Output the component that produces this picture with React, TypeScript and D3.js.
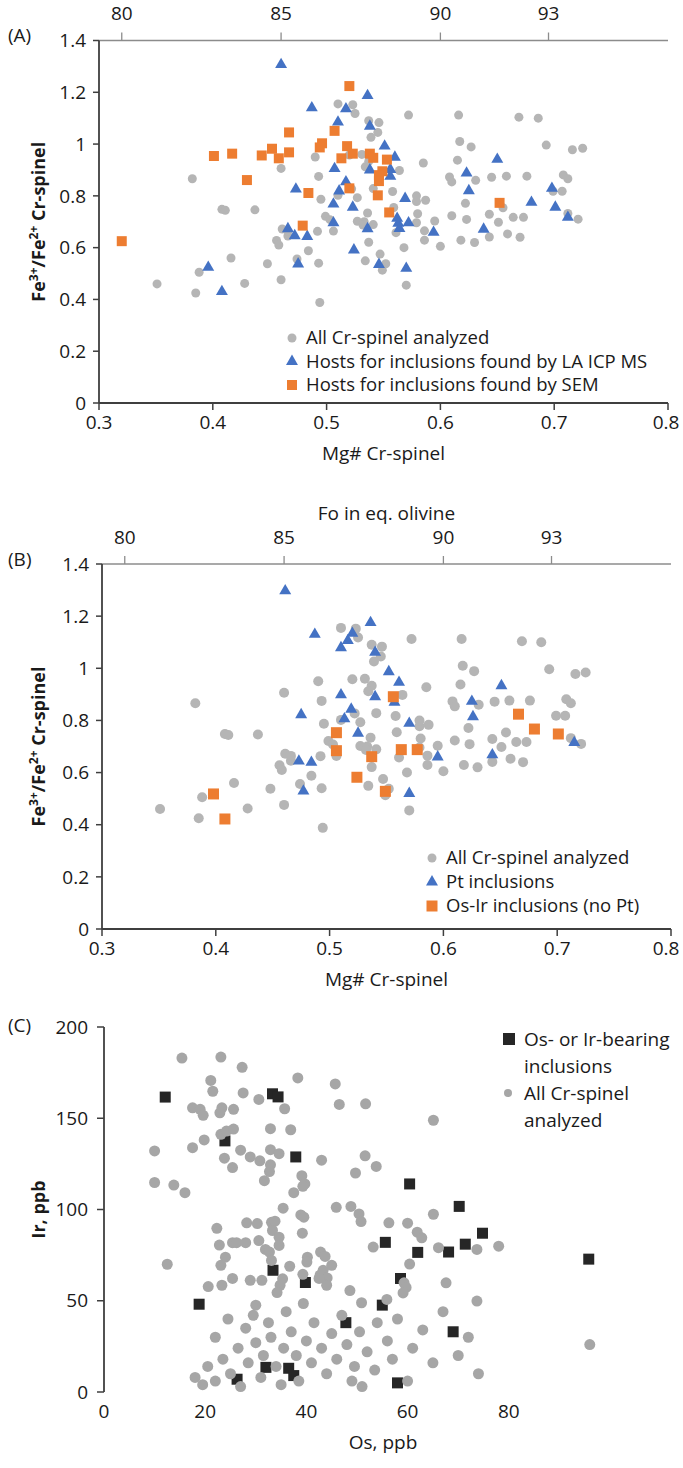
import React from "react";
import * as d3 from "d3";

// ---- panels A & B : Mg# Cr-spinel vs Fe3+/Fe2+ ----
const mgTicks = [0.3, 0.4, 0.5, 0.6, 0.7, 0.8];
const feTicks = [0, 0.2, 0.4, 0.6, 0.8, 1, 1.2, 1.4];
// Fo in equilibrium olivine, placed at the Mg# it corresponds to
const foTicks = [80, 85, 90, 93];
const foTickMg = [0.32, 0.46, 0.6, 0.695];

// all Cr-spinel analyzed [Mg#, Fe3+/Fe2+]
const allSpinel: [number, number][] = [
  [0.351, 0.46], [0.385, 0.425], [0.388, 0.505], [0.416, 0.56], [0.428, 0.462], [0.448, 0.538], [0.46, 0.476],
  [0.456, 0.628], [0.458, 0.61], [0.466, 0.645], [0.461, 0.672], [0.466, 0.664], [0.474, 0.556], [0.484, 0.588],
  [0.493, 0.54], [0.494, 0.388], [0.492, 0.663], [0.506, 0.664], [0.537, 0.621], [0.534, 0.549], [0.547, 0.575],
  [0.549, 0.513], [0.552, 0.538], [0.51, 1.155], [0.523, 1.152], [0.525, 1.118], [0.537, 1.09], [0.546, 1.083],
  [0.545, 1.045], [0.539, 1.026], [0.49, 0.95], [0.52, 0.958], [0.531, 0.96], [0.537, 0.933], [0.534, 0.912],
  [0.46, 0.906], [0.382, 0.866], [0.493, 0.875], [0.541, 0.828], [0.495, 0.787], [0.527, 0.793], [0.51, 0.802],
  [0.522, 0.827], [0.437, 0.746], [0.408, 0.748], [0.411, 0.744], [0.499, 0.721], [0.503, 0.708], [0.527, 0.702],
  [0.536, 0.734], [0.533, 0.7], [0.541, 0.689], [0.532, 0.687], [0.572, 1.112], [0.616, 1.112], [0.669, 1.104],
  [0.686, 1.1], [0.617, 1.01], [0.627, 0.989], [0.693, 0.996], [0.716, 0.978], [0.725, 0.984], [0.585, 0.927],
  [0.615, 0.938], [0.564, 0.898], [0.608, 0.873], [0.61, 0.854], [0.631, 0.86], [0.645, 0.872], [0.658, 0.876],
  [0.676, 0.876], [0.708, 0.881], [0.712, 0.866], [0.558, 0.817], [0.707, 0.818], [0.699, 0.818], [0.579, 0.778],
  [0.587, 0.783], [0.579, 0.8], [0.622, 0.771], [0.559, 0.755], [0.655, 0.754], [0.61, 0.723], [0.623, 0.709],
  [0.643, 0.729], [0.651, 0.698], [0.664, 0.717], [0.673, 0.717], [0.58, 0.731], [0.579, 0.696], [0.586, 0.665],
  [0.595, 0.703], [0.659, 0.653], [0.618, 0.629], [0.643, 0.641], [0.712, 0.732], [0.721, 0.71], [0.561, 0.658],
  [0.586, 0.629], [0.57, 0.455], [0.568, 0.6], [0.6, 0.605], [0.63, 0.62], [0.67, 0.64],
];

// (A) hosts for inclusions found by LA ICP MS
const hostsLaIcpMs: [number, number][] = [
  [0.46, 1.307], [0.536, 1.187], [0.487, 1.14], [0.517, 1.136], [0.51, 1.085], [0.538, 1.069], [0.551, 0.992],
  [0.56, 0.949], [0.556, 0.902], [0.556, 0.876], [0.507, 0.905], [0.517, 0.854], [0.473, 0.826], [0.511, 0.819],
  [0.538, 0.9], [0.506, 0.768], [0.523, 0.756], [0.506, 0.696], [0.536, 0.673], [0.466, 0.673], [0.472, 0.646],
  [0.483, 0.643], [0.569, 0.79], [0.562, 0.713], [0.563, 0.694], [0.572, 0.696], [0.564, 0.674], [0.594, 0.659],
  [0.65, 0.941], [0.623, 0.888], [0.625, 0.82], [0.68, 0.775], [0.638, 0.671], [0.698, 0.829], [0.701, 0.756],
  [0.712, 0.717], [0.524, 0.591], [0.475, 0.537], [0.546, 0.535], [0.396, 0.524], [0.408, 0.43], [0.57, 0.52],
];

// (A) hosts for inclusions found by SEM
const hostsSem: [number, number][] = [
  [0.52, 1.224], [0.467, 1.045], [0.507, 1.051], [0.496, 1.003], [0.494, 0.987], [0.518, 0.992], [0.401, 0.954],
  [0.417, 0.963], [0.443, 0.956], [0.452, 0.982], [0.458, 0.945], [0.467, 0.968], [0.513, 0.945], [0.523, 0.963],
  [0.538, 0.963], [0.541, 0.947], [0.553, 0.94], [0.549, 0.895], [0.546, 0.88], [0.546, 0.857], [0.43, 0.861],
  [0.484, 0.811], [0.52, 0.829], [0.545, 0.802], [0.555, 0.736], [0.479, 0.685], [0.32, 0.625], [0.652, 0.773],
];

// (B) Pt inclusions
const ptInclusions: [number, number][] = [
  [0.461, 1.297], [0.536, 1.175], [0.487, 1.13], [0.52, 1.134], [0.516, 1.106], [0.51, 1.079], [0.54, 1.061],
  [0.552, 0.987], [0.561, 0.946], [0.51, 0.898], [0.54, 0.891], [0.519, 0.843], [0.513, 0.806], [0.475, 0.822],
  [0.525, 0.751], [0.473, 0.644], [0.484, 0.639], [0.477, 0.529], [0.557, 0.87], [0.57, 0.789], [0.651, 0.933],
  [0.625, 0.873], [0.626, 0.814], [0.595, 0.66], [0.643, 0.668], [0.715, 0.715], [0.57, 0.52],
];

// (B) Os-Ir inclusions (no Pt)
const osIrInclusions: [number, number][] = [
  [0.398, 0.518], [0.408, 0.422], [0.506, 0.753], [0.506, 0.684], [0.537, 0.661], [0.524, 0.582], [0.549, 0.528],
  [0.556, 0.891], [0.666, 0.824], [0.68, 0.767], [0.701, 0.748], [0.563, 0.688], [0.577, 0.688],
];

// ---- panel C : Os vs Ir ----
const osTicks = [0, 20, 40, 60, 80];
const irTicks = [0, 50, 100, 150, 200];

// Os- or Ir-bearing inclusions [Os, Ir]
const osIrBearing: [number, number][] = [
  [12.1, 161.6], [33.3, 163.4], [34.4, 161.7], [23.9, 137.6], [37.9, 128.8], [60.4, 114], [70.2, 101.7],
  [74.8, 87], [55.6, 82], [71.4, 81], [62, 76.5], [68.1, 76.7], [58.6, 62.2], [33.4, 66.7], [39.8, 60],
  [18.8, 48.1], [55, 47.6], [95.8, 72.8], [47.8, 38], [69, 33], [26.3, 7], [32, 13.5], [36.5, 13], [37.5, 9],
  [58, 5],
];

// all Cr-spinel analyzed [Os, Ir]
const allSpinelOsIr: [number, number][] = [
  [15.4, 183], [23.1, 183.5], [27.3, 177.9], [38.3, 172.1], [21.1, 170.7], [21.5, 164.8], [27.5, 163.9],
  [30.6, 160.3], [45.7, 168.8], [46.5, 157.6], [51.7, 157.9], [17.5, 155.7], [19, 154.9], [19.6, 151.6],
  [23.3, 155.7], [22.9, 153], [25.6, 154.9], [35.7, 155.2], [10, 132.1], [17.5, 133.9], [19.8, 138.1],
  [23.1, 141.2], [24.2, 143], [25.6, 144.1], [32.9, 144.3], [36.9, 143.7], [27, 132.5], [28.9, 128.8],
  [32.9, 132.8], [34.6, 130.6], [51.6, 129.4], [43, 127], [23.8, 128.1], [30.8, 126.7], [25.4, 123],
  [32.9, 124.5], [32.7, 120.8], [31.7, 115.8], [53.8, 123.6], [49.7, 120], [10, 114.8], [13.8, 113.4],
  [16, 109.2], [39.1, 118.5], [39.7, 114], [39.3, 112.7], [37.5, 109.2], [35.4, 100.7], [38.9, 97],
  [39.5, 95.8], [45.9, 101.2], [48.8, 101.7], [50.4, 97.6], [50.8, 93.4], [28.2, 92.7], [30.3, 92.3],
  [33.1, 93], [33.8, 93.6], [22.3, 89.7], [33.3, 88.5], [39.2, 87], [34.6, 84.8], [34.6, 80.3], [25.4, 81.8],
  [26.2, 81.8], [28, 81.8], [30.6, 83], [22.8, 80.5], [31.9, 78.1], [32.7, 76.7], [33.1, 72.1], [24, 73.9],
  [23.1, 69.4], [12.5, 70], [36.7, 68.9], [40.2, 73.9], [40.1, 71.2], [42.8, 76.7], [43.7, 74.3], [45, 69.4],
  [43.3, 66.7], [42.7, 64], [44.1, 62.5], [44, 58.5], [42.5, 62.2], [53.2, 79.4], [39.3, 64.5], [35.3, 62],
  [34.8, 58.5], [34.2, 54.5], [31.2, 61.2], [28.9, 61.2], [25.4, 62.2], [23.3, 58.5], [20.6, 57.8],
  [48.6, 55.6], [50.9, 48.9], [39.4, 48.5], [30, 47.6], [65.1, 97.4], [56.3, 92.7], [60, 92.5], [61.9, 87.6],
  [62.8, 84.5], [66.1, 79.1], [73.7, 78.1], [78, 79.9], [60.4, 70.1], [67.6, 59.8], [59.3, 59.8], [59.7, 57.3],
  [59.1, 54.3], [55.9, 50.7], [73.7, 49.8], [65.1, 148.9],
  [18, 8], [19.5, 4], [20.5, 14], [22, 6], [22, 30], [23.5, 18], [24.5, 40], [25, 10], [26.5, 24], [27, 3],
  [28, 35], [28.5, 16], [29.5, 42], [30, 27], [31, 8], [31.5, 20], [32.5, 38], [33, 30], [34, 14], [35, 4],
  [35.5, 24], [36, 44], [37, 33], [38, 20], [38.5, 6], [40, 28], [41, 16], [41.5, 38], [43, 24], [44, 10],
  [45, 32], [46, 18], [47, 42], [48, 26], [49, 6], [49.5, 14], [50.5, 33], [51, 3], [52, 22], [53.5, 12],
  [54, 38], [56, 28], [57, 18], [58, 40], [60, 6], [61, 24], [63, 34], [65, 16], [67, 44], [70, 20], [72, 30],
  [74, 10], [96, 26],
];

const FONT = "'Open Sans', 'DejaVu Sans', sans-serif";
const FS = 19;
const AXIS = "#3f3f3f";
const TOPAXIS = "#8c8c8c";
const TXT = "#1a1a1a";
const GRAY_AB = "#b5b5b5";
const GRAY_C = "#a6a6a6";
const BLUE = "#4472c4";
const ORANGE = "#ed7d31";
const BLACK = "#262626";

const tri = d3.symbol().type(d3.symbolTriangle).size(62)();
const sq = (s: number) => d3.symbol().type(d3.symbolSquare).size(s * s)();

type Marker = "circle" | "triangle" | "square";
const mark = (m: Marker, x: number, y: number, color: string, key: any, s = 10) => {
  if (m === "circle") return <circle key={key} cx={x} cy={y} r={s / 2} fill={color} />;
  if (m === "triangle") return <path key={key} d={tri!} transform={`translate(${x},${y})`} fill={color} />;
  return <path key={key} d={sq(s)!} transform={`translate(${x},${y})`} fill={color} />;
};

type Series = { data: [number, number][]; marker: Marker; color: string; name: string; size: number };

function FePanel(props: {
  label: string;
  x0: number; x1: number; yTop: number; yBot: number;
  series: Series[];
  legendX: number; legendY: number[];
  foTitle: boolean;
}) {
  const { label, x0, x1, yTop, yBot, series, legendX, legendY, foTitle } = props;
  const x = d3.scaleLinear().domain([0.3, 0.8]).range([x0, x1]);
  const y = d3.scaleLinear().domain([0, 1.4]).range([yBot, yTop]);
  const midY = (yTop + yBot) / 2;
  return (
    <g fontFamily={FONT} fill={TXT}>
      <text x={8} y={yTop - 5} dy="0.35em" fontSize={FS}>{label}</text>
      {/* top Fo axis */}
      <line x1={x0} x2={x1} y1={yTop} y2={yTop} stroke={TOPAXIS} strokeWidth={1.3} />
      {foTicks.map((t, i) => (
        <g key={t}>
          <line x1={x(foTickMg[i])} x2={x(foTickMg[i])} y1={yTop} y2={yTop - 8} stroke={TOPAXIS} strokeWidth={1.3} />
          <text x={x(foTickMg[i])} y={yTop - 27} dy="0.35em" fontSize={FS} textAnchor="middle">{t}</text>
        </g>
      ))}
      {foTitle && (
        <text x={(x0 + x1) / 2} y={yTop - 51} dy="0.35em" fontSize={FS} textAnchor="middle">Fo in eq. olivine</text>
      )}
      {/* y axis */}
      <line x1={x0} x2={x0} y1={yTop} y2={yBot} stroke={AXIS} strokeWidth={1.8} />
      {feTicks.map((t) => (
        <g key={t}>
          <line x1={x0 - 6} x2={x0} y1={y(t)} y2={y(t)} stroke={AXIS} strokeWidth={1.5} />
          <text x={x0 - 13} y={y(t)} dy="0.35em" fontSize={FS} textAnchor="end">{d3.format("~g")(t)}</text>
        </g>
      ))}
      <text transform={`translate(45,${midY}) rotate(-90)`} textAnchor="middle" fontSize={18} fontWeight="bold">
        Fe<tspan dy={-7} fontSize={12}>3+</tspan><tspan dy={7}>/Fe</tspan>
        <tspan dy={-7} fontSize={12}>2+</tspan><tspan dy={7}> Cr-spinel</tspan>
      </text>
      {/* x axis */}
      <line x1={x0} x2={x1} y1={yBot} y2={yBot} stroke={AXIS} strokeWidth={1.8} />
      {mgTicks.map((t) => (
        <g key={t}>
          <line x1={x(t)} x2={x(t)} y1={yBot} y2={yBot + 7} stroke={AXIS} strokeWidth={1.5} />
          <text x={Math.min(x(t), 666)} y={yBot + 19} dy="0.35em" fontSize={FS} textAnchor="middle">{t.toFixed(1)}</text>
        </g>
      ))}
      <text x={(x0 + x1) / 2} y={yBot + 50} dy="0.35em" fontSize={FS} textAnchor="middle">Mg# Cr-spinel</text>
      {/* points */}
      {series.map((s, si) => (
        <g key={si}>{s.data.map((d, i) => mark(s.marker, x(d[0]), y(d[1]), s.color, i, s.size))}</g>
      ))}
      {/* legend */}
      {series.map((s, si) => (
        <g key={"l" + si}>
          {mark(s.marker, legendX, legendY[si], s.color, "m", s.marker === "circle" ? 9 : s.size)}
          <text x={legendX + 14} y={legendY[si]} dy="0.35em" fontSize={18.5}>{s.name}</text>
        </g>
      ))}
    </g>
  );
}

function OsIrPanel() {
  const x = d3.scaleLinear().domain([0, 110]).range([104, 660.6]);
  const y = d3.scaleLinear().domain([0, 200]).range([1392, 1027]);
  return (
    <g fontFamily={FONT} fill={TXT}>
      <text x={8} y={1025} dy="0.35em" fontSize={FS}>(C)</text>
      <line x1={104} x2={104} y1={y(200)} y2={y(0)} stroke={AXIS} strokeWidth={1.8} />
      {irTicks.map((t) => (
        <g key={t}>
          <line x1={97} x2={104} y1={y(t)} y2={y(t)} stroke={AXIS} strokeWidth={1.5} />
          <text x={88} y={y(t)} dy="0.35em" fontSize={FS} textAnchor="end">{t}</text>
        </g>
      ))}
      {osTicks.map((t) => (
        <text key={t} x={x(t)} y={y(0) + 19} dy="0.35em" fontSize={FS} textAnchor="middle">{t}</text>
      ))}
      <text x={383} y={y(0) + 50} dy="0.35em" fontSize={FS} textAnchor="middle">Os, ppb</text>
      <text transform={`translate(45,${(y(0) + y(200)) / 2}) rotate(-90)`} textAnchor="middle" fontSize={18} fontWeight="bold">
        Ir, ppb
      </text>
      {osIrBearing.map((d, i) => mark("square", x(d[0]), y(d[1]), BLACK, "s" + i, 11))}
      {allSpinelOsIr.map((d, i) => mark("circle", x(d[0]), y(d[1]), GRAY_C, "c" + i, 11))}
      {/* legend */}
      {mark("square", 509, 1039, BLACK, "ls", 12)}
      <text x={524} y={1039} dy="0.35em" fontSize={FS}>Os- or Ir-bearing</text>
      <text x={524} y={1066} dy="0.35em" fontSize={FS}>inclusions</text>
      {mark("circle", 508, 1093, GRAY_C, "lc", 8)}
      <text x={524} y={1093} dy="0.35em" fontSize={FS}>All Cr-spinel</text>
      <text x={524} y={1120} dy="0.35em" fontSize={FS}>analyzed</text>
    </g>
  );
}

export default function App() {
  const seriesA: Series[] = [
    { data: allSpinel, marker: "circle", color: GRAY_AB, name: "All Cr-spinel analyzed", size: 9 },
    { data: hostsLaIcpMs, marker: "triangle", color: BLUE, name: "Hosts for inclusions found by LA ICP MS", size: 11 },
    { data: hostsSem, marker: "square", color: ORANGE, name: "Hosts for inclusions found by SEM", size: 10 },
  ];
  const seriesB: Series[] = [
    { data: allSpinel, marker: "circle", color: GRAY_AB, name: "All Cr-spinel analyzed", size: 10 },
    { data: ptInclusions, marker: "triangle", color: BLUE, name: "Pt inclusions", size: 12 },
    { data: osIrInclusions, marker: "square", color: ORANGE, name: "Os-Ir inclusions (no Pt)", size: 11 },
  ];
  return (
    <svg width={683} height={1468} style={{ position: "absolute", left: 0, top: 0, background: "#fff" }}>
      <rect width={683} height={1468} fill="#fff" />
      <FePanel label="(A)" x0={99} x1={668} yTop={40.5} yBot={403} series={seriesA}
        legendX={292} legendY={[338, 361.5, 385]} foTitle={false} />
      <FePanel label="(B)" x0={102} x1={671} yTop={564} yBot={929} series={seriesB}
        legendX={432} legendY={[858, 882, 906]} foTitle={true} />
      <OsIrPanel />
    </svg>
  );
}
